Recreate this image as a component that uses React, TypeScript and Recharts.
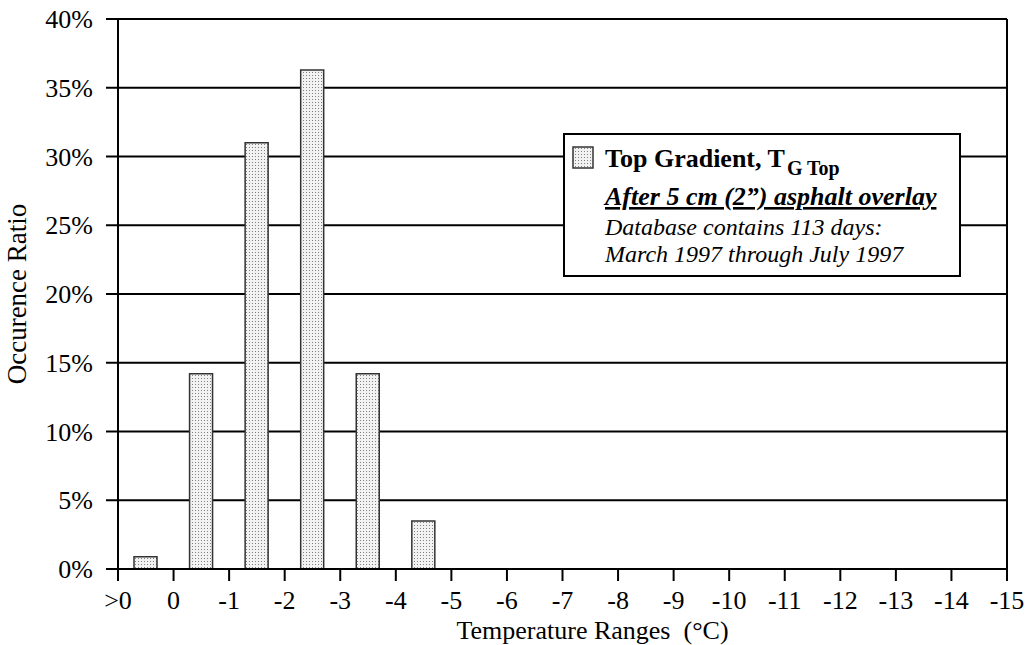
import React from 'react';
import { BarChart, Bar, XAxis, YAxis, CartesianGrid, ReferenceLine, Legend, Label } from 'recharts';

// Interval mid-points (between tick boundaries) and occurrence ratios (%)
const intervalMids = [0.5, 1.5, 2.5, 3.5, 4.5, 5.5, 6.5, 7.5, 8.5, 9.5, 10.5, 11.5, 12.5, 13.5, 14.5, 15.5];
const intervalNames = ['>0 to 0', '0 to -1', '-1 to -2', '-2 to -3', '-3 to -4', '-4 to -5', '-5 to -6', '-6 to -7', '-7 to -8', '-8 to -9', '-9 to -10', '-10 to -11', '-11 to -12', '-12 to -13', '-13 to -14', '-14 to -15'];
const ratios = [0.9, 14.2, 31.0, 36.3, 14.2, 3.5, 0, 0, 0, 0, 0, 0, 0, 0, 0, 0];

const xTickPositions = [0, 1, 2, 3, 4, 5, 6, 7, 8, 9, 10, 11, 12, 13, 14, 15, 16];
const xTickLabels = ['>0', '0', '-1', '-2', '-3', '-4', '-5', '-6', '-7', '-8', '-9', '-10', '-11', '-12', '-13', '-14', '-15'];
const yTicks = [0, 5, 10, 15, 20, 25, 30, 35, 40];

const seriesName = 'Top Gradient, T';
const seriesSub = 'G Top';
const noteTitle = 'After 5 cm (2\u201D) asphalt overlay';
const noteLine1 = 'Database contains 113 days:';
const noteLine2 = 'March 1997 through July 1997';
const xTitle = 'Temperature Ranges  (\u00B0C)';
const yTitle = 'Occurence Ratio';

const data = intervalMids.map((m, i) => ({ mid: m, name: intervalNames[i], ratio: ratios[i] }));

const FONT = '"Liberation Serif", "Times New Roman", serif';

const LegendBox = () => (
  <svg width={398} height={144} style={{ display: 'block' }}>
    <defs>
      <pattern id="dotsLegend" width={3} height={3} patternUnits="userSpaceOnUse">
        <rect width={3} height={3} fill="#f2f2f2" />
        <rect width={1} height={1} fill="#808080" />
      </pattern>
    </defs>
    <rect x={1} y={1} width={396} height={142} fill="#fff" stroke="#000" strokeWidth={2} />
    <rect x={10} y={14} width={20} height={21} fill="url(#dotsLegend)" stroke="#333" strokeWidth={1.5} />
    <text x={42} y={34} fontFamily={FONT} fontSize={26} fontWeight="bold" fill="#000">
      {seriesName}
      <tspan dx={2} dy={8} fontSize={20}>{seriesSub}</tspan>
    </text>
    <text x={42} y={72} fontFamily={FONT} fontSize={26} fontWeight="bold" fontStyle="italic" fill="#000" style={{ textDecoration: 'underline' }}>
      {noteTitle}
    </text>
    <text x={42} y={102} fontFamily={FONT} fontSize={24} fontStyle="italic" fill="#000">{noteLine1}</text>
    <text x={42} y={129} fontFamily={FONT} fontSize={24} fontStyle="italic" fill="#000">{noteLine2}</text>
  </svg>
);

const XTitle = (props: any) => {
  const vb = props.viewBox || {};
  return (
    <text x={vb.x + vb.width / 2 + 30} y={639} textAnchor="middle" fontFamily={FONT} fontSize={26} fill="#000" style={{ whiteSpace: 'pre' }}>
      {xTitle}
    </text>
  );
};

const YTitle = (props: any) => {
  const vb = props.viewBox || {};
  const cy = vb.y + vb.height / 2;
  return (
    <text x={26} y={cy} transform={`rotate(-90 26 ${cy})`} textAnchor="middle" fontFamily={FONT} fontSize={27} fill="#000">
      {yTitle}
    </text>
  );
};

export default function App() {
  return (
    <div style={{ position: 'absolute', left: 0, top: 0, width: 1033, height: 645, background: '#fff' }}>
      <BarChart width={1033} height={645} data={data} margin={{ top: 19, right: 26, bottom: 0, left: 0 }}>
        <defs>
          <pattern id="dotsBar" width={3} height={3} patternUnits="userSpaceOnUse">
            <rect width={3} height={3} fill="#f2f2f2" />
            <rect width={1} height={1} fill="#808080" />
          </pattern>
        </defs>
        <CartesianGrid vertical={false} stroke="#000" strokeWidth={2} strokeDasharray="" />
        <XAxis
          dataKey="mid"
          type="number"
          domain={[0, 16]}
          ticks={xTickPositions}
          interval={0}
          tickFormatter={(v: number) => xTickLabels[v]}
          height={76}
          tickSize={12}
          tickMargin={10}
          axisLine={{ stroke: '#000', strokeWidth: 2 }}
          tickLine={{ stroke: '#000', strokeWidth: 2 }}
          tick={{ fill: '#000', fontSize: 26, fontFamily: FONT }}
        >
          <Label content={<XTitle />} />
        </XAxis>
        <YAxis
          type="number"
          domain={[0, 40]}
          ticks={yTicks}
          interval={0}
          tickFormatter={(v: number) => `${v}%`}
          width={118}
          tickSize={12}
          tickMargin={13}
          axisLine={{ stroke: '#000', strokeWidth: 2 }}
          tickLine={{ stroke: '#000', strokeWidth: 2 }}
          tick={{ fill: '#000', fontSize: 26, fontFamily: FONT }}
        >
          <Label content={<YTitle />} />
        </YAxis>
        <ReferenceLine x={16} stroke="#000" strokeWidth={2} />
        <Legend
          layout="horizontal"
          verticalAlign="middle"
          align="center"
          content={() => <LegendBox />}
          wrapperStyle={{ position: 'absolute', left: 563, top: 133, width: 398, height: 144, margin: 0, padding: 0 }}
        />
        <Bar dataKey="ratio" name={seriesName} barSize={23} fill="url(#dotsBar)" stroke="#333" strokeWidth={1.5} isAnimationActive={false} />
      </BarChart>
    </div>
  );
}
